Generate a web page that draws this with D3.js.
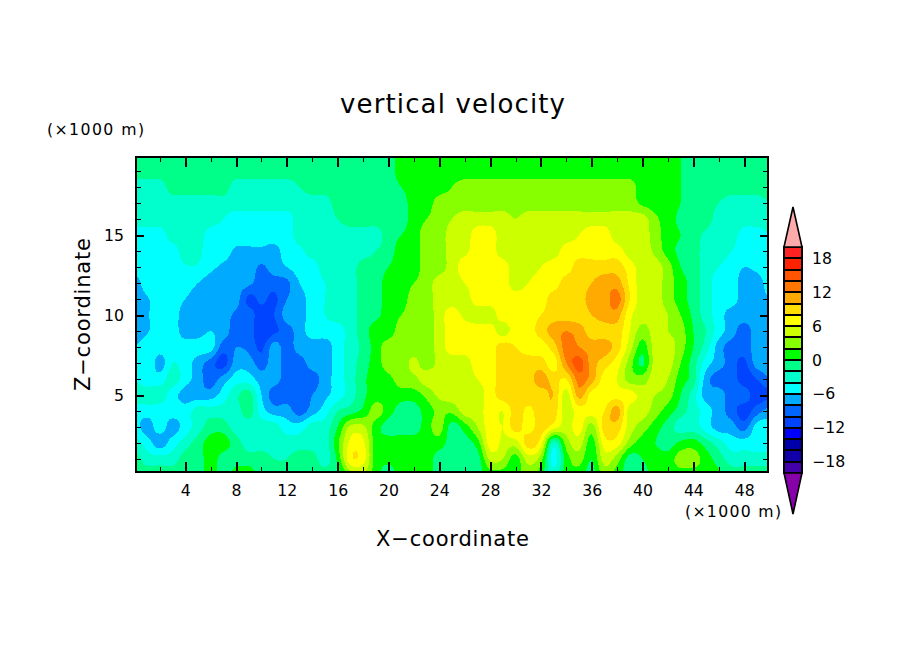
<!DOCTYPE html>
<html><head><meta charset="utf-8">
<style>html,body{margin:0;background:#fff}svg{display:block}text{font-family:"DejaVu Sans",sans-serif;fill:#000}</style>
<script src="https://cdn.jsdelivr.net/npm/d3@7/dist/d3.min.js"></script>
</head><body><svg id="c" width="904" height="654"></svg>
<script>
const titleText="vertical velocity", xTitle="X\u2212coordinate", zTitle="Z\u2212coordinate", unitText="(\u00d71000 m)";
const xMajor=[4,8,12,16,20,24,28,32,36,40,44,48];
const xMinor=[2,6,10,14,18,22,26,30,34,38,42,46];
const zMajor=[5,10,15];
const zMinor=[1,2,3,4,6,7,8,9,11,12,13,14,16,17,18,19];
const levels=[-20,-18,-16,-14,-12,-10,-8,-6,-4,-2,0,2,4,6,8,10,12,14,16,18,20];
const legendTicks=[18,12,6,0,-6,-12,-18];
const bandColors=["#4400aa","#1100aa","#0000aa","#0000ff","#0044ff","#0066ff","#00aaff","#00ffff","#00ffcc","#00ff88","#00ff00","#88ff00","#ccff00","#ffff00","#ffdd00","#ffaa00","#ff7700","#ff5500","#ff2200","#ff2222"];
const lowColor="#8800aa", highColor="#ffaaaa";
// one row per km of height, one value per km of x (0..50)
const z20=[-1,-1,-1,-1,-1,-1,-1,-1,-1,-1,-1,-1,-1,-1,-1,-1,-1,-1,-1,-1,-1,1,1,1,1,1,1,1,1,1,1,1,1,1,1,1,1,1,1,1,1,1,1,0,-1,-1,-1,-1,-1,-1,-1];
const z19=[-1,-1,-1,-1,-1,-1,-1,-1,-1,-1,-1,-1,-1,-1,-1,-1,-1,-1,-1,-1,-1,1,1,1,1,1,1,1,1,1,1,1,1,1,1,1,1,1,1,1,1,1,1,0,-1,-1,-1,-1,-1,-1,-1];
const z18=[-3,-3,-3,-1,-1,-1,-1,-1,-3,-3,-3,-3,-3,-2,-1,-1,-1,-1,-1,-1,-1,0,1,1,1,2,3,3,3,3,3,3,3,3,3,3,3,3,3,3,1,1,1,0,-1,-1,-1,-1,-1,-1,-1];
const z17=[-3,-3,-3,-3,-3,-3,-3,-3,-3,-3,-3,-3,-3,-3,-3,-3,-1,-1,-1,-1,-1,-1,1,1,3,3,3,3,3,3,3,3,3,3,3,3,3,3,3,3,1.5,1,1,0,-1,-1,-2,-3,-3,-3,-2];
const z16=[-3,-3,-3,-3,-3,-3,-3,-4,-5,-5,-5,-5,-5,-3,-3,-3,-2,-1,-1,-1,-1,-1,1,2,3,4,5,5,5,5,4,5,5,5,5,5,5,5,5,5,5,2.5,1,-0.5,-1,-1,-3,-3,-3,-3,-3];
const z15=[-5,-5,-5,-3,-3,-3,-5,-5,-5,-5,-5,-5,-5,-3,-3,-3,-3,-3,-3,-3,-1,0,1,3,3,5,5,7,7,5,5,5,5,5,5,6,7,7,5,5,5,3,1,0,-1,-2.5,-3,-3,-5,-5,-4];
const z14=[-5,-5,-5,-5,-3,-3.5,-5,-5,-6.4,-6.4,-6.4,-6.8,-5,-4.5,-3,-3,-3,-3,-3,-2,-1,1,1,3,3,5,5.5,7,7,5,5,5,5,5,7,7,7,7,7,5,5,3.5,1,-0.5,-1,-3,-3,-4,-5,-5,-5];
const z13=[-5,-5,-5,-5,-4.2,-4.2,-5.5,-6.4,-7,-7,-8.3,-7,-6,-5,-5,-3,-3,-3,-1,-1,0,1,1,3,3,5,7,7,7,7,5,5,6,7,7,9,9,9,9,7,5,5,3,0,-1,-3,-4,-5,-6,-5.5,-5];
const z12=[-7,-5,-5,-5,-5,-6,-7,-7,-7,-7.5,-9,-9,-8.5,-6,-5,-4,-3,-3,-1,-1,1,1,2,3,5,5,6,7,7,7,5,6,7,7,9,9,10,11,11,7.5,5,5,3,1,-1,-3,-5,-5,-7,-7,-5];
const z11=[-7,-6.2,-5,-5,-6,-7,-7,-6,-7,-10.6,-9.5,-10.5,-8,-7,-5,-4,-3,-3,-1,-1,1,1,3,3,5,5,5,7,7,7,7,7,7,9,9,9,11,11,13,8,5,5,3,1,-1,-3,-5,-5,-7,-7,-6];
const z10=[-7,-6.2,-5,-5,-7,-7,-7,-7,-8.5,-9,-11,-10,-7,-7,-5,-4,-3,-3,-1,-0.5,1,2,3,3,5,7,5.5,5,5,7,7,7,8,9,9,9,10,11,11,6.5,5,5,4,2,-0.5,-3,-5,-7,-7,-7,-7];
const z9=[-7,-6.2,-5,-5,-7,-7,-6,-7,-9,-9,-11.5,-10.5,-9,-7,-5,-5,-5,-3,-1,1,1,3,3,3,5,7,7,7,7,5,7,7,9,11,12,11,9,9,9,6,3,5,4,3,0,-2,-5,-7,-9,-7,-7];
const z8=[-6,-5,-5,-5,-5,-5,-5,-9,-8,-8.5,-10.5,-7,-9,-7,-7,-7,-5,-3,-1.5,1,3,3,3,3,5,7,7,7,7,9,8,7,7,9,13,12,11,11,9,5,1,5,5,3,0,-3,-7,-9,-9,-7,-6];
const z7=[-5,-4,-7,-4,-5,-7,-9,-11,-7,-7,-9,-7,-9,-9,-7,-7,-5,-3,-1,1,3,3,4.5,3,4.5,5,5,7,7,9,9,9,9,7,12,15,11,9,7,3,-0.5,5,5,2,-1,-5,-7,-9,-10.5,-7,-7];
const z6=[-4,-5,-5,-3,-5,-7,-9,-7,-5,-5,-7,-7,-9,-9,-9,-7,-5,-3,-0.5,1,1.5,3,3.5,5,5,5,5,6,7,9,9,9,11,9,8,13,11,7,6,3,3,5,4,1,-1,-7,-9,-9,-11,-10,-8];
const z5=[-3,-3,-3,-5,-7,-7,-7,-5,-2.5,-1,-6,-9,-9,-9,-8,-6.5,-5,-3,-0.5,1,1,1,1,2.5,4.5,5,5,5,7,9,9,9,9,10,5,11,7,7,7,7,5,4,3,0,-3,-7,-7,-9,-9,-11,-10.5];
const z4=[-5,-5,-5,-5,-5,-3,-3,-3,-3,-1,-5,-7,-7,-9,-7,-5,-2,-1,0.5,3,1,-1,-1,1,2.5,2.5,5,5,7,6,9,7.5,9,9,5,7,7,8,11,5,5,3,1,-1,-3,-5,-7,-9,-11,-9,-7];
const z3=[-5,-7,-5,-7,-5,-3,-1,-1,-3,-3,-3,-3,-5,-5,-3,-3,0,4.5,4.5,1,-1,-1,-1,1,3,-1,1,4,7,6,9,7,9,7,5,7,3,9,9,5,3,1,-1,-3,-3,-5,-7,-7,-9,-5,-5];
const z2=[-3,-5,-7,-5,-3,-1,1,1,-1,-3,-3,-3,-3,-3,-3,-3,1.5,6.5,6.5,1,1,1,1,1,1,-1,-1,1,7,5.5,5,9,7,-3,3,5,1,7,7,3,1,0,-1,0.5,1,-1,-3,-5,-5,-5,-5];
const z1=[-1,-3,-3,-3,-1,-1,1,-1,-1,-1,-1,-2,-2,-1,-1,-3,0.5,7.5,7,1,0.5,1,1,1,-1,-1,-1,-1,4.5,4,1,5,3,-5,1,3,0,5,3,-1,0,1,1,3,3,1,-1,-3,-3,-3,-3];
const z0=[-1,-1,-1,-1,-1,-1,1,-1,1,1,-1,-1,-1,-1,-1,-1,-1,3,4,1,-1,1,1,1,-1,-1,-1,-1,1,1,1,3,1,-3,1,1,-1,3,1,-1,-1,1,1,1,1,1,0.5,-1,-1,-1,-1];
const rows=[z0,z1,z2,z3,z4,z5,z6,z7,z8,z9,z10,z11,z12,z13,z14,z15,z16,z17,z18,z19,z20];
const nx=z0.length, nz=rows.length, f=4;

const left=136,right=768,top_=157,bottom=472;
const x=d3.scaleLinear().domain([0.125,49.875]).range([left,right]);
const y=d3.scaleLinear().domain([0.19,19.875]).range([bottom,top_]);
const svg=d3.select("#c");
svg.append("defs").append("clipPath").attr("id","plot").append("rect").attr("x",left).attr("y",top_).attr("width",right-left).attr("height",bottom-top_);

// cubic resampling of the read grid, so that contour edges come out rounded
function cubic(a,b,c,d,t){return b+0.5*t*(c-a+t*(2*a-5*b+4*c-d+t*(3*(b-c)+d-a)));}
function resample(arr){const out=[],n=arr.length;for(let i=0;i<n-1;i++)for(let k=0;k<f;k++)out.push(cubic(arr[Math.max(i-1,0)],arr[i],arr[i+1],arr[Math.min(i+2,n-1)],k/f));out.push(arr[n-1]);return out;}
const wide=rows.map(resample);
const mx=wide[0].length, cols=d3.range(mx).map(i=>resample(wide.map(r=>r[i])));
const mz=cols[0].length, fine=new Array(mx*mz);
for(let i=0;i<mx;i++)for(let j=0;j<mz;j++)fine[j*mx+i]=cols[i][j];
const contours=d3.contours().size([mx,mz]).thresholds(levels)(fine);
const proj=d3.geoTransform({point(px,py){this.stream.point(x((px-0.5)/f),y((py-0.5)/f));}});
const path=d3.geoPath(proj);
const g=svg.append("g").attr("clip-path","url(#plot)");
g.append("rect").attr("x",left).attr("y",top_).attr("width",right-left).attr("height",bottom-top_).attr("fill",lowColor);
g.selectAll("path").data(contours).join("path").attr("d",path).attr("shape-rendering","crispEdges")
 .attr("fill",d=>{const i=levels.indexOf(d.value);return i<bandColors.length?bandColors[i]:highColor;});

// axes
function ticks(axis,vals,size,w){return s=>{s.call(axis.tickValues(vals).tickSize(-size).tickFormat(""));s.select(".domain").remove();s.selectAll("line").attr("stroke","#000").attr("stroke-width",w).attr("shape-rendering","crispEdges");};}
svg.append("g").attr("transform",`translate(0,${bottom})`).call(ticks(d3.axisBottom(x),xMinor,5,1));
svg.append("g").attr("transform",`translate(0,${top_})`).call(ticks(d3.axisTop(x),xMinor,5,1));
svg.append("g").attr("transform",`translate(0,${top_})`).call(ticks(d3.axisTop(x),xMajor,10,2));
svg.append("g").attr("transform",`translate(${left},0)`).call(ticks(d3.axisLeft(y),zMinor,5,1));
svg.append("g").attr("transform",`translate(${right},0)`).call(ticks(d3.axisRight(y),zMinor,5,1));
svg.append("g").attr("transform",`translate(${right},0)`).call(ticks(d3.axisRight(y),zMajor,8,2));
const bx=svg.append("g").attr("transform",`translate(0,${bottom})`).call(d3.axisBottom(x).tickValues(xMajor).tickSize(-10).tickPadding(13));
const by=svg.append("g").attr("transform",`translate(${left},0)`).call(d3.axisLeft(y).tickValues(zMajor).tickSize(-8).tickPadding(12));
[bx,by].forEach(s=>{s.select(".domain").remove();s.selectAll("line").attr("stroke","#000").attr("stroke-width",2).attr("shape-rendering","crispEdges");s.selectAll("text").attr("font-size",15.7).attr("font-family",'"DejaVu Sans"').attr("fill","#000");});
svg.append("rect").attr("x",left).attr("y",top_).attr("width",right-left).attr("height",bottom-top_).attr("fill","none").attr("stroke","#000").attr("stroke-width",2).attr("shape-rendering","crispEdges");

// text
function label(t,px,py,size,len){return svg.append("text").attr("x",px).attr("y",py).attr("font-size",size).attr("textLength",len).attr("lengthAdjust","spacing").text(t);}
label(titleText,340,113,26,225);
label(unitText,47,135,15.7,97);
label(unitText,685,517,15.7,96);
label(xTitle,376,546,21,153);
svg.append("text").attr("transform","translate(90,391) rotate(-90)").attr("font-size",21).attr("textLength",153).attr("lengthAdjust","spacing").text(zTitle);

// colour bar
const lx0=784,lx1=802,lxm=793;
const ly=d3.scaleLinear().domain([-20,20]).range([473,247]);
const lg=svg.append("g");
lg.selectAll("rect").data(bandColors).join("rect").attr("x",lx0).attr("width",lx1-lx0)
 .attr("y",(d,i)=>ly(levels[i+1])).attr("height",(d,i)=>ly(levels[i])-ly(levels[i+1]))
 .attr("fill",d=>d).attr("stroke","#000").attr("stroke-width",2).attr("shape-rendering","crispEdges");
lg.append("path").attr("d",d3.line()([[lx0,ly(20)],[lxm,207],[lx1,ly(20)]])+"Z").attr("fill",highColor).attr("stroke","#000").attr("stroke-width",1.6);
lg.append("path").attr("d",d3.line()([[lx0,ly(-20)],[lxm,514],[lx1,ly(-20)]])+"Z").attr("fill",lowColor).attr("stroke","#000").attr("stroke-width",1.6);
lg.selectAll("text").data(legendTicks).join("text").attr("x",812).attr("y",d=>ly(d)+5.5).attr("font-size",15.7).text(d=>d<0?"\u2212"+(-d):d);
</script></body></html>
